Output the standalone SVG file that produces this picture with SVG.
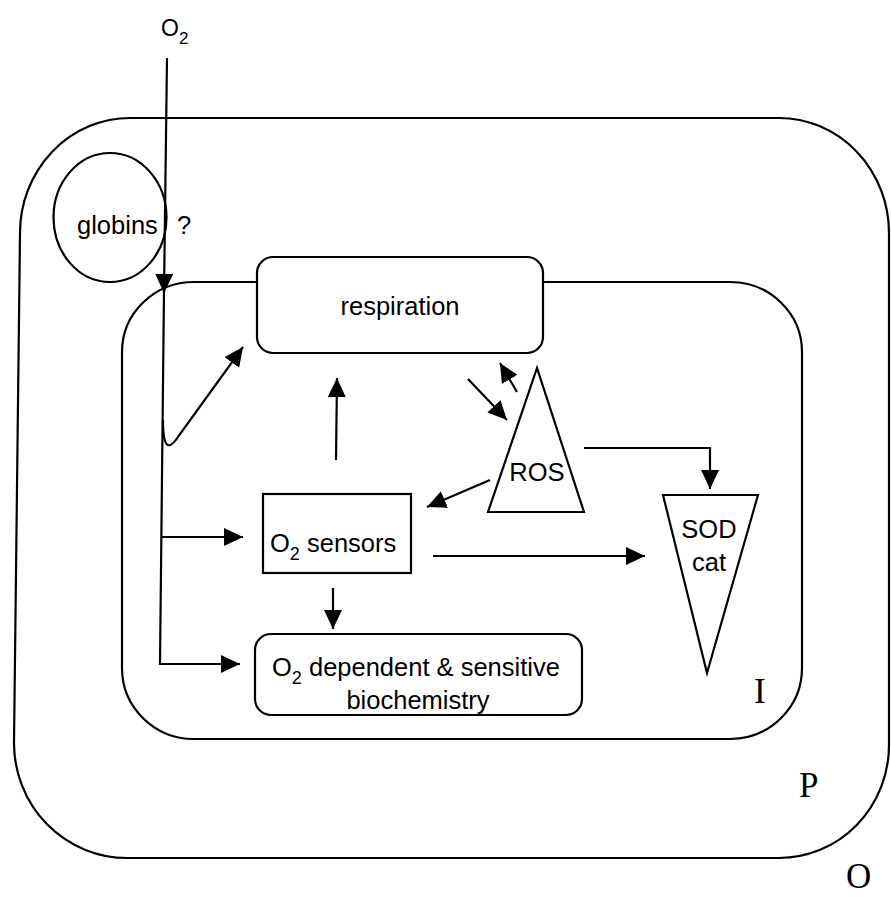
<svg xmlns="http://www.w3.org/2000/svg" width="891" height="897" viewBox="0 0 891 897">
<defs>
<style>
.ln{fill:none;stroke:#000;stroke-width:2.2}
.nd{fill:#fff;stroke:#000;stroke-width:2.2}
.sf{font-family:"Liberation Sans",Arial,sans-serif;font-size:25.5px;fill:#000}
.sr{font-family:"Liberation Serif","Times New Roman",serif;font-size:35px;fill:#000}
.c{fill:none;stroke:#000;stroke-width:2.2}
</style>
<marker id="ah" markerUnits="userSpaceOnUse" markerWidth="22" markerHeight="20" refX="19" refY="9" orient="auto">
<path d="M0,0 L19,9 L0,18 Z" fill="#000"/>
</marker>
</defs>
<rect width="891" height="897" fill="#fff"/>
<g id="outer">
<path class="ln" d="M130,118 L779,118 A110,115 0 0 1 889,233 L889,745 A110,113 0 0 1 779,858 L127,858 A113,115 0 0 1 14,743 L20,233 A110,115 0 0 1 130,118 Z"/>
</g>
<g id="inner">
<path class="ln" d="M194,282 L730,282 A72,70 0 0 1 802,352 L802,668 A72,71 0 0 1 730,739 L194,739 A72,71 0 0 1 122,668 L122,352 A72,70 0 0 1 194,282 Z"/>
</g>
<g id="globins">
<ellipse class="ln" cx="110" cy="217.5" rx="56.5" ry="64.5"/>
<text class="sf" x="77" y="234">globins</text>
<text class="sf" x="177" y="234">?</text>
</g>
<g id="o2-label">
<text class="sf" x="161" y="36" style="font-size:23px">O<tspan dy="8" style="font-size:17px">2</tspan></text>
</g>
<g id="respiration">
<rect class="nd" x="257" y="257" width="286" height="96" rx="16"/>
<text class="sf" x="400" y="315" text-anchor="middle">respiration</text>
</g>
<g id="ros">
<polygon class="nd" points="537,368 488,512 584,512"/>
<text class="sf" x="537" y="481" text-anchor="middle">ROS</text>
</g>
<g id="sodcat">
<polygon class="nd" points="663,495 758,495 707,673"/>
<text class="sf" x="709" y="538" text-anchor="middle">SOD</text>
<text class="sf" x="709" y="571" text-anchor="middle">cat</text>
</g>
<g id="sensors">
<rect class="nd" x="263" y="494" width="148" height="79"/>
<text class="sf" x="270" y="552">O<tspan dy="8" style="font-size:18px">2</tspan><tspan dy="-8"> sensors</tspan></text>
</g>
<g id="biochemistry">
<rect class="nd" x="255" y="634" width="327" height="81" rx="16"/>
<text class="sf" x="272" y="676">O<tspan dy="8" style="font-size:18px">2</tspan><tspan dy="-8"> dependent &amp; sensitive</tspan></text>
<text class="sf" x="418" y="709" text-anchor="middle">biochemistry</text>
</g>
<g id="labels">
<text class="sr" x="754" y="703">I</text>
<text class="sr" x="799" y="797">P</text>
<text class="sr" x="846" y="888">O</text>
</g>
<g id="connectors">
<path class="c" d="M167,58 L164,293" marker-end="url(#ah)"/>
<path class="c" d="M164,290 L160,664 L240,664" marker-end="url(#ah)"/>
<path class="c" d="M161,537 L243,537" marker-end="url(#ah)"/>
<path class="c" d="M163,420 C163,452 170,450 180,434 L243,347" marker-end="url(#ah)"/>
<path class="c" d="M336,460 L337,378" marker-end="url(#ah)"/>
<path class="c" d="M490,480 L427,507" marker-end="url(#ah)"/>
<path class="c" d="M468,379 L507,420" marker-end="url(#ah)"/>
<path class="c" d="M517,392 L500,363" marker-end="url(#ah)"/>
<path class="c" d="M584,448 L710,448 L710,489" marker-end="url(#ah)"/>
<path class="c" d="M433,556 L645,556" marker-end="url(#ah)"/>
<path class="c" d="M333,588 L333,629" marker-end="url(#ah)"/>
</g>
</svg>
